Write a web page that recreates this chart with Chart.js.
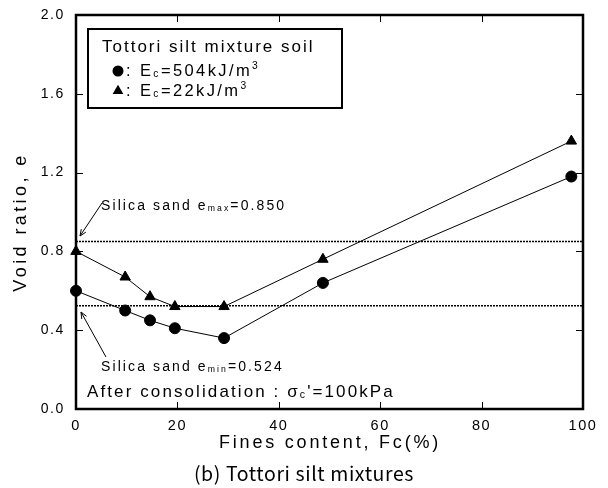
<!DOCTYPE html>
<html>
<head>
<meta charset="utf-8">
<script src="https://cdn.jsdelivr.net/npm/chart.js@4.4.1/dist/chart.umd.min.js"></script>
<style>
body { margin: 0; background: #fff; }
#wrap { width: 608px; height: 488px; position: relative; }
</style>
</head>
<body>
<div id="wrap"><canvas id="chart"></canvas></div>
<script>
// values
const finesContent = [0, 9.7, 14.6, 19.5, 29.2, 48.7, 97.7];
const voidHighEnergy = [0.60, 0.50, 0.45, 0.41, 0.36, 0.64, 1.18]; // Ec=504kJ/m3
const voidLowEnergy = [0.80, 0.67, 0.57, 0.52, 0.52, 0.76, 1.36];  // Ec=22kJ/m3
const xTicks = [0, 20, 40, 60, 80, 100];
const yTicks = [0.0, 0.4, 0.8, 1.2, 1.6, 2.0];
const eMax = 0.850;
const eMin = 0.524;

const FONT = '"Liberation Sans", Arial, sans-serif';

function toPoints(xs, ys) {
    return xs.map((x, i) => ({ x: x, y: ys[i] }));
}

// text with sub/superscript parts and letter spacing
function drawRich(ctx, x, y, parts, size, spacing) {
    ctx.save();
    ctx.fillStyle = '#000';
    ctx.textBaseline = 'alphabetic';
    ctx.textAlign = 'left';
    for (const p of parts) {
        let s = size, dy = 0;
        if (p.sub) { s = size * 0.62; dy = 1; }
        if (p.sup) { s = size * 0.62; dy = -size * 0.42; }
        ctx.font = s + 'px ' + FONT;
        ctx.letterSpacing = '0px';
        const w = ctx.measureText(p.t).width + spacing * p.t.length;
        ctx.letterSpacing = spacing + 'px';
        ctx.fillText(p.t, x, y + dy);
        x += w;
    }
    ctx.restore();
}

function arrow(ctx, x1, y1, x2, y2) {
    const a = Math.atan2(y2 - y1, x2 - x1);
    ctx.save();
    ctx.strokeStyle = '#000';
    ctx.lineWidth = 1;
    ctx.beginPath();
    ctx.moveTo(x1, y1);
    ctx.lineTo(x2, y2);
    ctx.moveTo(x2 - 7 * Math.cos(a - 0.4), y2 - 7 * Math.sin(a - 0.4));
    ctx.lineTo(x2, y2);
    ctx.lineTo(x2 - 7 * Math.cos(a + 0.4), y2 - 7 * Math.sin(a + 0.4));
    ctx.stroke();
    ctx.restore();
}

function triangle(ctx, x, y, r) {
    ctx.beginPath();
    ctx.moveTo(x, y - r);
    ctx.lineTo(x + 0.866 * r, y + 0.5 * r);
    ctx.lineTo(x - 0.866 * r, y + 0.5 * r);
    ctx.closePath();
    ctx.fill();
}

const spacingPlugin = {
    id: 'spacing',
    beforeDraw(chart) {
        chart.ctx.letterSpacing = '1.6px';
    }
};

const framePlugin = {
    id: 'frame',
    afterDraw(chart) {
        const ctx = chart.ctx;
        const a = chart.chartArea;
        const xs = chart.scales.x, ys = chart.scales.y;
        ctx.save();
        ctx.strokeStyle = '#000';
        ctx.lineWidth = 2.5;
        ctx.strokeRect(a.left, a.top, a.right - a.left, a.bottom - a.top);
        ctx.lineWidth = 1;
        ctx.beginPath();
        for (const v of xTicks) {
            const px = Math.round(xs.getPixelForValue(v)) + 0.5;
            ctx.moveTo(px, a.bottom); ctx.lineTo(px, a.bottom - 7);
            ctx.moveTo(px, a.top); ctx.lineTo(px, a.top + 7);
        }
        for (const v of yTicks) {
            const py = Math.round(ys.getPixelForValue(v)) + 0.5;
            ctx.moveTo(a.left, py); ctx.lineTo(a.left + 7, py);
            ctx.moveTo(a.right, py); ctx.lineTo(a.right - 7, py);
        }
        ctx.stroke();

        // legend box
        ctx.lineWidth = 2;
        ctx.strokeRect(88, 29, 254, 79);
        drawRich(ctx, 102, 52, [{ t: 'Tottori silt mixture soil' }], 17, 2);
        ctx.fillStyle = '#000';
        ctx.beginPath();
        ctx.arc(118, 71, 5.5, 0, Math.PI * 2);
        ctx.fill();
        drawRich(ctx, 126, 76, [{ t: ': E' }, { t: 'c', sub: true }, { t: '=504kJ/m' }, { t: '3', sup: true }], 16.5, 2.4);
        triangle(ctx, 118, 91, 6.2);
        drawRich(ctx, 126, 96, [{ t: ': E' }, { t: 'c', sub: true }, { t: '=22kJ/m' }, { t: '3', sup: true }], 16.5, 2.4);

        // reference line notes
        drawRich(ctx, 101, 210, [{ t: 'Silica sand e' }, { t: 'max', sub: true }, { t: '=0.850' }], 14, 2.1);
        arrow(ctx, 102, 203, 80, 236);
        drawRich(ctx, 101, 371, [{ t: 'Silica sand e' }, { t: 'min', sub: true }, { t: '=0.524' }], 14, 2.1);
        arrow(ctx, 106, 357, 81, 312);
        drawRich(ctx, 87, 397, [{ t: 'After consolidation : \u03c3' }, { t: 'c', sub: true }, { t: '\'=100kPa' }], 17, 2.1);

        // axis titles
        ctx.fillStyle = '#000';
        ctx.font = '18px ' + FONT;
        ctx.letterSpacing = '2.8px';
        ctx.textAlign = 'center';
        ctx.textBaseline = 'middle';
        ctx.fillText('Fines content, Fc(%)', 330, 443);
        ctx.save();
        ctx.translate(21, 222);
        ctx.rotate(-Math.PI / 2);
        ctx.letterSpacing = '3.4px';
        ctx.fillText('Void ratio, e', 0, 0);
        ctx.restore();

        // caption
        ctx.letterSpacing = '0.6px';
        ctx.font = '19.5px "Noto Sans CJK KR", "Noto Sans", sans-serif';
        ctx.fillText('(b) Tottori silt mixtures', 304, 474);
        ctx.restore();
    }
};

const refLine = (v) => ({
    data: [{ x: 0, y: v }, { x: 100, y: v }],
    showLine: true,
    borderColor: '#000',
    borderWidth: 1.4,
    borderDash: [2, 1],
    pointRadius: 0,
    order: 2
});

new Chart(document.getElementById('chart'), {
    type: 'scatter',
    data: {
        datasets: [
            {
                label: 'Ec=504kJ/m3',
                data: toPoints(finesContent, voidHighEnergy),
                showLine: true,
                borderColor: '#000',
                borderWidth: 1,
                backgroundColor: '#000',
                pointStyle: 'circle',
                pointRadius: 5.5,
                clip: false,
                order: 0
            },
            {
                label: 'Ec=22kJ/m3',
                data: toPoints(finesContent, voidLowEnergy),
                showLine: true,
                borderColor: '#000',
                borderWidth: 1,
                backgroundColor: '#000',
                pointStyle: 'triangle',
                pointRadius: 6,
                clip: false,
                order: 0
            },
            refLine(eMax),
            refLine(eMin)
        ]
    },
    options: {
        responsive: true,
        maintainAspectRatio: false,
        animation: false,
        devicePixelRatio: 1,
        layout: { padding: { top: 15, right: 25, left: 0, bottom: 0 } },
        plugins: { legend: { display: false }, tooltip: { enabled: false } },
        scales: {
            x: {
                type: 'linear',
                min: 0,
                max: 100,
                afterBuildTicks: s => { s.ticks = xTicks.map(v => ({ value: v })); },
                afterFit: s => { s.height = 79; },
                grid: { display: false },
                border: { display: false },
                ticks: { color: '#000', font: { size: 14.5, family: FONT }, padding: 0, maxRotation: 0 }
            },
            y: {
                type: 'linear',
                min: 0,
                max: 2,
                afterBuildTicks: s => { s.ticks = yTicks.map(v => ({ value: v })); },
                afterFit: s => { s.width = 76; },
                grid: { display: false },
                border: { display: false },
                ticks: {
                    color: '#000',
                    font: { size: 14, family: FONT },
                    padding: 3,
                    callback: v => v.toFixed(1)
                }
            }
        }
    },
    plugins: [spacingPlugin, framePlugin]
});
</script>
</body>
</html>
